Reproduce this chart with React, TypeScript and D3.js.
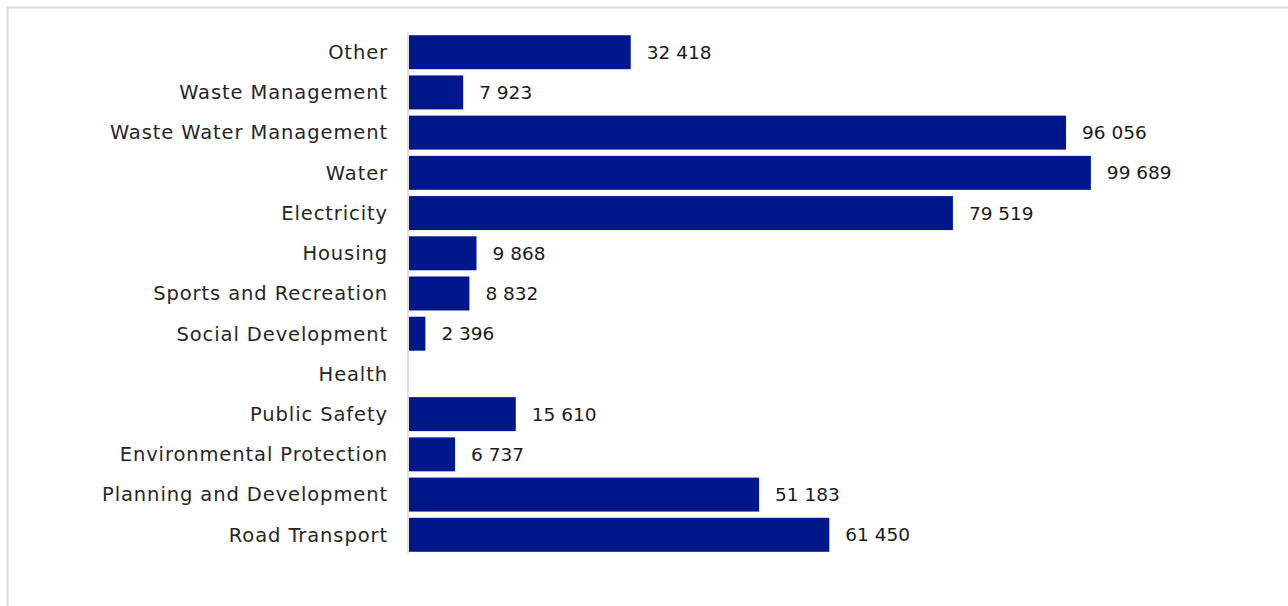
import React from "react";
import * as d3 from "d3";

const categories = [
  "Other",
  "Waste Management",
  "Waste Water Management",
  "Water",
  "Electricity",
  "Housing",
  "Sports and Recreation",
  "Social Development",
  "Health",
  "Public Safety",
  "Environmental Protection",
  "Planning and Development",
  "Road Transport",
];
const values: (number | null)[] = [
  32418, 7923, 96056, 99689, 79519, 9868, 8832, 2396, null, 15610, 6737, 51183, 61450,
];

const W = 1288;
const H = 606;

export default function App() {
  const x = d3.scaleLinear().domain([0, 100000]).range([409, 1093]);
  const y = d3.scaleBand<string>().domain(categories).range([32, 555]).paddingInner(0.155).paddingOuter(0.08);
  const fmt = d3.formatLocale({ decimal: ",", thousands: " ", grouping: [3], currency: ["", ""] }).format(",d");
  const font = "'DejaVu Sans', sans-serif";
  return (
    <svg width={W} height={H} style={{ position: "absolute", left: 0, top: 0, background: "#fff" }}>
      <rect x={7.5} y={7.5} width={W + 10} height={H + 10} fill="none" stroke="#d9d9d9" strokeWidth={2} />
      {categories.map((c, i) => {
        const v = values[i];
        const yy = y(c)!;
        const cy = yy + y.bandwidth() / 2;
        return (
          <g key={c}>
            <text x={388} y={cy} dy="0.35em" textAnchor="end" fontFamily={font} fontSize={19.5} letterSpacing={0.9} fill="#262626">
              {c}
            </text>
            {v != null && (
              <>
                <rect x={x(0)} y={yy} width={x(v) - x(0)} height={y.bandwidth()} fill="#00178A" />
                <text x={x(v) + 16} y={cy} dy="0.35em" fontFamily={font} fontSize={18.5} fill="#1a1a1a">
                  {fmt(v)}
                </text>
              </>
            )}
          </g>
        );
      })}
      <line x1={408} x2={408} y1={y.range()[0]} y2={y.range()[1] - 2} stroke="#d9d9d9" strokeWidth={1.5} />
    </svg>
  );
}
